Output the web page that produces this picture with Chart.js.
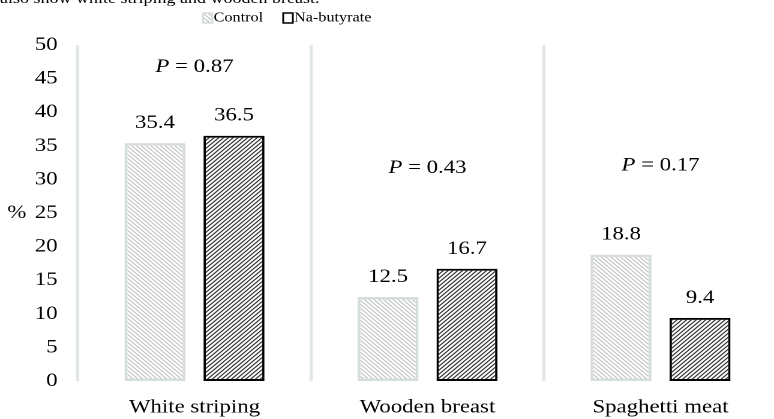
<!DOCTYPE html>
<html>
<head>
<meta charset="utf-8">
<script src="https://cdn.jsdelivr.net/npm/chart.js@4"></script>
<style>
  html, body { margin: 0; padding: 0; background: #fff; overflow: hidden; width: 774px; height: 419px; }
  /* the reference is stretched sideways, so the whole chart is drawn narrow and scaled */
  #wrap { position: absolute; left: 0; top: 0; width: 650px; height: 419px; transform: scaleX(1.2); transform-origin: 0 0; }
  #caption { position: absolute; left: 0; top: -9px; font: 15px "Liberation Serif", serif; line-height: 15px; white-space: nowrap; color: #000; }
  #chart { position: absolute; left: 0; top: 0; }
</style>
</head>
<body>
<div id="wrap">
  <div id="caption">also show white striping and wooden breast.</div>
  <canvas id="chart" width="650" height="419"></canvas>
</div>
<script>
// data
const categories = ["White striping", "Wooden breast", "Spaghetti meat"];
const controlValues = [35.4, 12.5, 18.8];
const butyrateValues = [36.5, 16.7, 9.4];
const pValues = ["0.87", "0.43", "0.17"];
const pLevels = [46.7, 31.7, 32.1]; // height of the P label, in %
const yMin = 0, yMax = 50, yStep = 5;

const FONT = '"Liberation Serif", serif';

/**
 * hatch pattern, "\" or "/"
 */
function hatch(lineColor, dir) {
  const s = 8;
  const c = document.createElement("canvas");
  c.width = s; c.height = s;
  const g = c.getContext("2d");
  g.fillStyle = "#fff";
  g.fillRect(0, 0, s, s);
  g.strokeStyle = lineColor;
  g.lineWidth = 2.2;
  g.beginPath();
  if (dir === "back") {
    g.moveTo(-2, -2); g.lineTo(s + 2, s + 2);
    g.moveTo(-2, s - 2); g.lineTo(2, s + 2);
    g.moveTo(s - 2, -2); g.lineTo(s + 2, 2);
  } else {
    g.moveTo(-2, s + 2); g.lineTo(s + 2, -2);
    g.moveTo(-2, 2); g.lineTo(2, -2);
    g.moveTo(s - 2, s + 2); g.lineTo(s + 2, s - 2);
  }
  g.stroke();
  const p = g.createPattern(c, "repeat");
  p.setTransform(new DOMMatrix().scale(0.5));
  return p;
}

const legendBox = { x: 169, y: 13, gap: 67 };

// legend, value labels, P labels and the % title
const extras = {
  id: "extras",
  afterDatasetsDraw(chart) {
    const ctx = chart.ctx;
    const xs = chart.scales.x, ys = chart.scales.y;
    ctx.save();
    ctx.fillStyle = "#000";

    // values above bars
    ctx.font = "19px " + FONT;
    ctx.textAlign = "center";
    ctx.textBaseline = "middle";
    chart.data.datasets.forEach((ds, i) => {
      chart.getDatasetMeta(i).data.forEach((bar, j) => {
        ctx.fillText(ds.data[j].toFixed(1), bar.x, bar.y - 20);
      });
    });

    // P = ...
    categories.forEach((c, i) => {
      const x = xs.getPixelForValue(i);
      const y = ys.getPixelForValue(pLevels[i]);
      ctx.font = "italic 19px " + FONT;
      const wP = ctx.measureText("P").width;
      ctx.font = "19px " + FONT;
      const rest = " = " + pValues[i];
      const wR = ctx.measureText(rest).width;
      const x0 = x - (wP + wR) / 2;
      ctx.textAlign = "left";
      ctx.font = "italic 19px " + FONT;
      ctx.fillText("P", x0, y);
      ctx.font = "19px " + FONT;
      ctx.fillText(rest, x0 + wP, y);
    });

    // y title
    ctx.font = "19px " + FONT;
    ctx.textAlign = "center";
    ctx.fillText("%", 14, ys.getPixelForValue(25));

    // legend
    ctx.font = "13.5px " + FONT;
    ctx.textAlign = "left";
    let lx = legendBox.x;
    chart.data.datasets.forEach((ds, i) => {
      ctx.fillStyle = i === 0 ? ds.backgroundColor : "#fff";
      ctx.fillRect(lx, legendBox.y, 8, 10);
      ctx.strokeStyle = ds.borderColor;
      ctx.lineWidth = 1.5;
      ctx.strokeRect(lx, legendBox.y, 8, 10);
      ctx.fillStyle = "#000";
      ctx.fillText(ds.label, lx + 9, legendBox.y + 5);
      lx += legendBox.gap;
    });
    ctx.restore();
  }
};

function drawChart() {
  const chartCtx = document.getElementById("chart").getContext("2d");
  new Chart(chartCtx, {
    type: "bar",
    data: {
      labels: categories,
      datasets: [{
        label: "Control",
        data: controlValues,
        backgroundColor: hatch("#c6c6c6", "back"),
        borderColor: "#d5dedb",
        borderWidth: 2.5,
        borderSkipped: false,
        categoryPercentage: 0.678,
        barPercentage: 0.772,
      }, {
        label: "Na-butyrate",
        data: butyrateValues,
        backgroundColor: hatch("#333333", "fwd"),
        borderColor: "#000000",
        borderWidth: 2,
        borderSkipped: false,
        categoryPercentage: 0.678,
        barPercentage: 0.772,
      }],
    },
    options: {
      responsive: false,
      animation: false,
      devicePixelRatio: 2,
      layout: { padding: { top: 45, right: 2.5, bottom: 0, left: 0 } },
      plugins: { legend: { display: false }, tooltip: { enabled: false } },
      scales: {
        x: {
          grid: { color: "#dfe6e3", lineWidth: 2.5, drawTicks: false, offset: true },
          border: { display: false },
          ticks: { color: "#000", font: { family: FONT, size: 19 }, padding: 15, maxRotation: 0 },
          afterFit: (s) => { s.height = 38; },
        },
        y: {
          min: yMin, max: yMax,
          ticks: { stepSize: yStep, color: "#000", font: { family: FONT, size: 19 }, padding: 17 },
          grid: { display: false, drawTicks: false },
          border: { display: false },
          afterFit: (s) => { s.width = 65; },
        },
      },
    },
    plugins: [extras],
  });
}

Promise.all([
  document.fonts.load('19px "Liberation Serif"'),
  document.fonts.load('italic 19px "Liberation Serif"'),
]).then(drawChart, drawChart);
</script>
</body>
</html>
